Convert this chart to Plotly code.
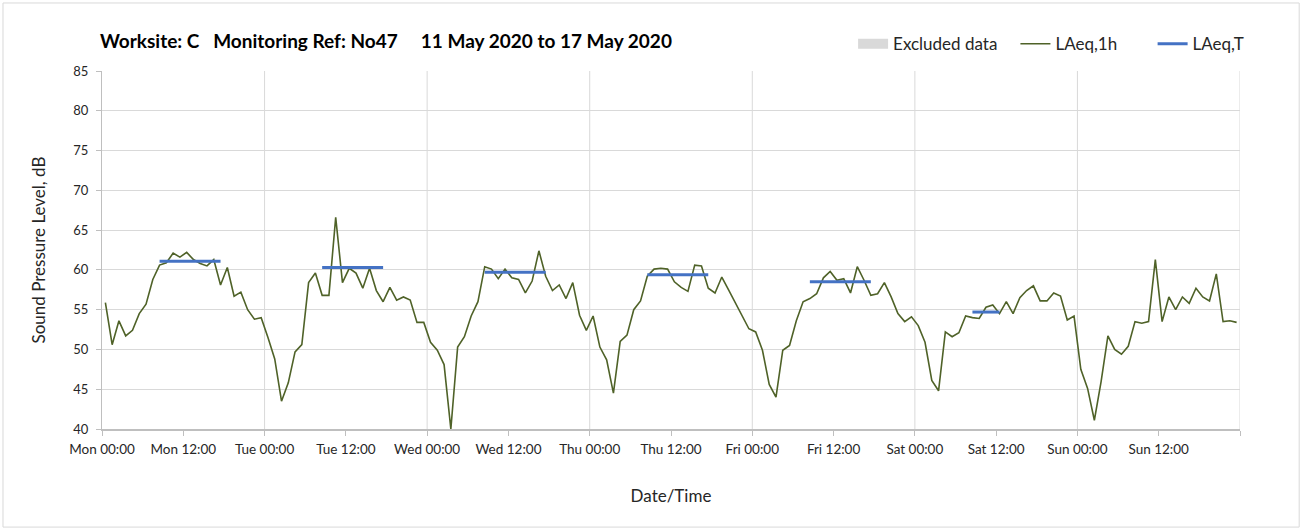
import plotly.graph_objects as go

# ---- data ----
day_names = ["Mon", "Tue", "Wed", "Thu", "Fri", "Sat", "Sun"]
tick_times = ["00:00", "12:00"]

# hourly LAeq,1h values, Mon 00:00 .. Sun 23:00 (168 values)
laeq_1h = [
    # Mon
    55.9, 50.6, 53.6, 51.7, 52.4, 54.5, 55.7, 58.8, 60.6, 60.9, 62.1, 61.6,
    62.2, 61.3, 60.8, 60.5, 61.3, 58.1, 60.3, 56.7, 57.2, 55.0, 53.8, 54.0,
    # Tue
    51.5, 48.8, 43.5, 45.8, 49.7, 50.6, 58.4, 59.6, 56.8, 56.8, 66.6, 58.4,
    60.2, 59.6, 57.7, 60.2, 57.4, 56.0, 57.8, 56.2, 56.6, 56.2, 53.4, 53.4,
    # Wed
    50.9, 49.9, 48.1, 40.0, 50.3, 51.6, 54.2, 56.0, 60.4, 60.1, 58.9, 60.1,
    59.0, 58.8, 57.1, 58.6, 62.4, 59.2, 57.4, 58.1, 56.4, 58.4, 54.3, 52.4,
    # Thu
    54.2, 50.3, 48.7, 44.5, 51.0, 51.8, 55.0, 56.1, 59.2, 60.1, 60.2, 60.1,
    58.5, 57.8, 57.3, 60.6, 60.5, 57.7, 57.1, 59.1, 57.5, 55.8, 54.3, 52.6,
    # Fri
    52.2, 49.9, 45.6, 44.0, 49.9, 50.5, 53.6, 56.0, 56.4, 57.0, 59.0, 59.8,
    58.7, 58.9, 57.1, 60.4, 58.7, 56.8, 57.0, 58.4, 56.6, 54.5, 53.5, 54.1,
    # Sat
    53.0, 50.9, 46.1, 44.8, 52.2, 51.6, 52.1, 54.2, 54.0, 53.9, 55.3, 55.6,
    54.5, 56.0, 54.5, 56.5, 57.4, 58.0, 56.1, 56.1, 57.1, 56.7, 53.7, 54.2,
    # Sun
    47.5, 45.1, 41.1, 46.0, 51.7, 50.0, 49.4, 50.4, 53.5, 53.3, 53.5, 61.3,
    53.5, 56.6, 55.0, 56.6, 55.8, 57.7, 56.6, 56.1, 59.5, 53.5, 53.6, 53.4,
]

# LAeq,T per day (daytime period), start/end hour of period
laeq_T = [61.1, 60.3, 59.7, 59.4, 58.5, 54.7]
period_start = [8, 8, 8, 8, 8, 8]
period_end = [17, 17, 17, 17, 17, 12]

series_names = ["Excluded data", "LAeq,1h", "LAeq,T"]

title_text = ("Worksite: C\u00a0\u00a0\u00a0Monitoring Ref: No47\u00a0\u00a0\u00a0\u00a0\u00a0"
              "11 May 2020 to 17 May 2020")

# ---- build ----
hours = [h + 0.5 for h in range(len(laeq_1h))]

laeq_T_y = [None] * len(laeq_1h)
for d, val in enumerate(laeq_T):
    for h in range(period_start[d], period_end[d] + 1):
        laeq_T_y[d * 24 + h] = val

tickvals = []
ticktext = []
for d, name in enumerate(day_names):
    for k, t in enumerate(tick_times):
        tickvals.append(d * 24 + k * 12)
        ticktext.append(f"{name} {t}")
tickvals.append(168)
ticktext.append("")

FONT = "Lato, 'Open Sans', sans-serif"
GRID = "#d9d9d9"
AXIS = "#bfbfbf"
PAD = "\u00a0"

fig = go.Figure()
fig.add_trace(go.Scatter(x=[None], y=[None], mode="lines",
                         name=series_names[0] + PAD * 3,
                         line=dict(color="#d9d9d9", width=10)))
fig.add_trace(go.Scatter(x=hours, y=laeq_1h, mode="lines",
                         name=series_names[1] + PAD * 7,
                         line=dict(color="#4f6228", width=1.6)))
fig.add_trace(go.Scatter(x=hours, y=laeq_T_y, mode="lines", name=series_names[2],
                         line=dict(color="#4472c4", width=3),
                         connectgaps=False))

# vertical day gridlines
for d in range(1, len(day_names) + 1):
    fig.add_shape(type="line", xref="x", yref="paper", x0=d * 24, x1=d * 24,
                  y0=0, y1=1, line=dict(color=GRID, width=1), layer="below")

# outer chart border
fig.add_shape(type="rect", xref="paper", yref="paper",
              x0=-0.087, x1=1.052, y0=-0.274, y1=1.19,
              line=dict(color=GRID, width=1), fillcolor="rgba(0,0,0,0)")

fig.update_layout(
    width=1303, height=531,
    margin=dict(l=102, r=63, t=71, b=102),
    paper_bgcolor="white", plot_bgcolor="white",
    font=dict(family=FONT, color="#404040", size=13),
    title=dict(text=title_text, x=100 / 1303, xref="container", xanchor="left",
               y=1 - 41 / 531, yref="container", yanchor="middle",
               font=dict(family=FONT, size=19, color="#000000", weight="bold")),
    legend=dict(orientation="h", x=0.66, xanchor="left", y=1.075,
                yanchor="middle", font=dict(size=17, color="#262626"),
                bgcolor="rgba(0,0,0,0)", traceorder="normal"),
    showlegend=True,
)

fig.update_xaxes(
    range=[0, 168], tickmode="array", tickvals=tickvals, ticktext=ticktext,
    showgrid=False, zeroline=False, showline=True, linecolor=AXIS, linewidth=1.5,
    ticks="outside", ticklen=5, tickcolor=AXIS, ticklabelstandoff=2,
    tickfont=dict(size=13.5, color="#262626"), automargin=False,
    title=dict(text="Date/Time", font=dict(size=17, color="#262626"), standoff=34),
)
fig.update_yaxes(
    range=[40, 85], dtick=5, tick0=40,
    showgrid=True, gridcolor=GRID, gridwidth=1, zeroline=False,
    showline=True, linecolor=AXIS, linewidth=1,
    ticks="outside", ticklen=5, tickcolor=AXIS, ticklabelstandoff=5,
    tickfont=dict(size=13, color="#262626"), automargin=False,
    title=dict(text="Sound Pressure Level, dB", font=dict(size=17, color="#262626"),
               standoff=23),
)

fig.write_html("out.html", config={"displayModeBar": False},
               post_script="document.body.style.margin='0';"
                           "document.documentElement.style.overflow='hidden';")
